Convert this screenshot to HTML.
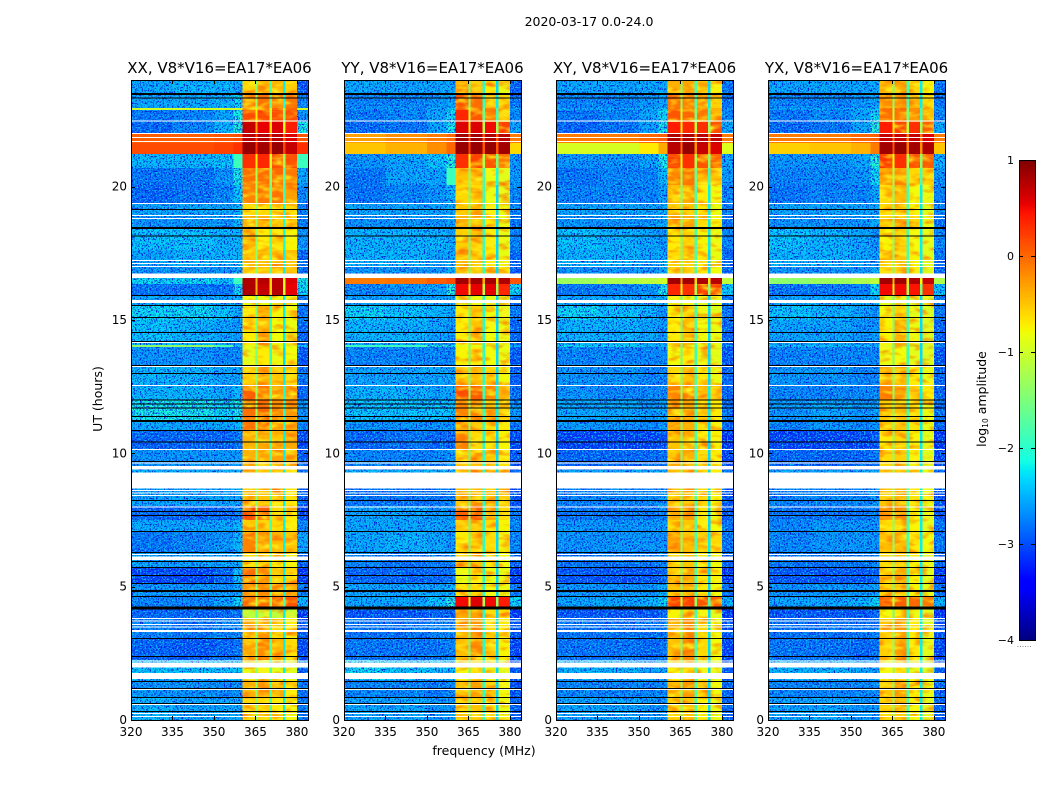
<!DOCTYPE html>
<html><head><meta charset="utf-8"><title>2020-03-17 spectrogram</title>
<style>
html,body{margin:0;padding:0;background:#fff}
svg{display:block}
text{font-family:"DejaVu Sans","Liberation Sans",sans-serif;fill:#000}
</style></head>
<body>
<svg id="fig" xmlns="http://www.w3.org/2000/svg" width="1050" height="800" viewBox="0 0 1050 800" shape-rendering="crispEdges">
<defs>
<filter id="grainDark" x="0" y="0" width="100%" height="100%" color-interpolation-filters="sRGB"><feTurbulence type="fractalNoise" baseFrequency="0.62" numOctaves="2" seed="4"/><feColorMatrix values="0 0 0 0 0  0 0 0 0 0.12  0 0 0 0 0.85  6 0 0 0 -2.9"/><feComposite in2="SourceAlpha" operator="in"/></filter>
<filter id="grainLight" x="0" y="0" width="100%" height="100%" color-interpolation-filters="sRGB"><feTurbulence type="fractalNoise" baseFrequency="0.62" numOctaves="2" seed="11"/><feColorMatrix values="0 0 0 0 0.05  0 0 0 0 0.75  0 0 0 0 0.95  6 0 0 0 -3.1"/><feComposite in2="SourceAlpha" operator="in"/></filter>
<filter id="fringeYellow" x="0" y="0" width="100%" height="100%" color-interpolation-filters="sRGB"><feTurbulence type="fractalNoise" baseFrequency="0.07 0.16" numOctaves="2" seed="7"/><feColorMatrix values="0 0 0 0 1  0 0 0 0 0.95  0 0 0 0 0.1  2.6 0 0 0 -1.15"/><feComposite in2="SourceAlpha" operator="in"/></filter>
<filter id="fringeOrange" x="0" y="0" width="100%" height="100%" color-interpolation-filters="sRGB"><feTurbulence type="fractalNoise" baseFrequency="0.07 0.16" numOctaves="2" seed="19"/><feColorMatrix values="0 0 0 0 1  0 0 0 0 0.4  0 0 0 0 0  2.2 0 0 0 -1.05"/><feComposite in2="SourceAlpha" operator="in"/></filter>
</defs>
<text x="589" y="26" font-size="12.5" text-anchor="middle">2020-03-17 0.0-24.0</text>
<text x="484" y="755" font-size="12.5" text-anchor="middle">frequency (MHz)</text>
<text transform="translate(102,399) rotate(-90)" font-size="12.5" text-anchor="middle">UT (hours)</text>
<text transform="translate(986,399) rotate(-90)" font-size="12.5" text-anchor="middle">log<tspan font-size="7.5" dy="2">10</tspan><tspan dy="-2"> amplitude</tspan></text>
<text x="1017" y="647" font-size="6" fill="#555" letter-spacing="0.6">......</text>
</svg>
<script>
// Axis tick values
const freqTicks = [320, 335, 350, 365, 380];
const utTicks = [0, 5, 10, 15, 20];
const colorTicks = [-4, -3, -2, -1, 0, 1];
const panelTitles = ["XX, V8*V16=EA17*EA06", "YY, V8*V16=EA17*EA06", "XY, V8*V16=EA17*EA06", "YX, V8*V16=EA17*EA06"];
// Channel-block edges in MHz
const freqEdges = [320, 335, 350, 357, 360.4, 365, 365.8, 370, 370.9, 375, 375.8, 380, 384];
// Time-block edges in UT hours
const utEdges = [0,.86,1.5,2.25,3.08,3.83,4.24,4.61,5.14,5.74,6.26,7.05,7.5,8.03,8.7,9.38,10.16,10.88,11.25,12,12.56,13.31,13.99,14.06,15,15.56,15.94,16.35,16.58,16.99,17.63,18.45,18.94,19.39,20.06,20.7,21.23,21.64,22.01,22.43,22.88,22.95,23.51,24];
// log10 amplitude for each time block (bottom to top), one value per channel block
const ampXX = [
[-2.4,-2.5,-2.5,-2.5,-.6,-1.4,-.6,-1.8,-.7,-2.2,-.8,-2.8],
[-2.6,-2.6,-2.7,-2.6,-.4,-1.4,-.3,-1.8,-.45,-2.2,-.7,-2.8],
[-2.3,-2.3,-2.3,-2.3,-.85,-1.4,-.85,-1.8,-.9,-2.2,-.9,-2.9],
[-2.9,-3,-2.9,-2.8,-.35,-1.4,-.2,-1.8,-.4,-2.2,-.6,-3.1],
[-2.7,-2.8,-2.7,-2.7,-.5,-1.4,-.25,-1.8,-.6,-2.2,-.7,-3],
[-2.9,-2.9,-2.9,-2.8,-1.1,-1.7,-1.1,-1.9,-1.1,-2.2,-1.1,-3.2],
[-2.7,-2.7,-2.5,-2.2,0,-1.1,-.05,-1.4,0,-1.8,.1,-2.4],
[-2.6,-2.6,-2.6,-2.5,-.2,-1.4,-.2,-1.8,-.3,-2.2,-.35,-2.8],
[-3.1,-3.1,-2.9,-2.3,-.05,-1.4,-.3,-1.8,-.5,-2.2,-.6,-3.2],
[-2.5,-2.5,-2.5,-2.5,-.6,-1.4,-.55,-1.8,-.7,-2.2,-.75,-2.9],
[-2.8,-2.7,-2.6,-2.4,-.15,-1.4,-.25,-1.8,-.45,-2.2,-.5,-2.5],
[-2.5,-2.5,-2.5,-2.4,-.5,-1.4,-.5,-1.8,-.6,-2.2,-.7,-2.7],
[-2.9,-2.9,-2.9,-2.7,.15,-1.2,.05,-1.6,-.6,-2.1,-.7,-3.1],
[-2.5,-2.5,-2.5,-2.5,-.5,-1.4,-.5,-1.8,-.6,-2.2,-.65,-2.9],
[-2.4,-2.4,-2.4,-2.4,-.5,-1.4,-.5,-1.8,-.5,-2.2,-.5,-2.8],
[-2.6,-2.6,-2.6,-2.6,-.4,-1.4,-.4,-1.8,-.3,-2.2,-.45,-3],
[-2.9,-2.9,-2.9,-2.8,-.4,-1.4,-.35,-1.8,-.5,-2.2,-.35,-3.1],
[-2.5,-2.5,-2.5,-2.4,-.1,-1.4,-.05,-1.7,-.3,-2.1,-.3,-2.7],
[-2.1,-2.1,-2.2,-2.1,-.05,-1.3,0,-1.6,-.2,-2,-.25,-2.6],
[-2.4,-2.4,-2.5,-2.4,.05,-1.3,-.1,-1.6,-.3,-2.1,-.25,-2.9],
[-2.4,-2.4,-2.5,-2.5,-.55,-1.4,-.4,-1.8,-.5,-2.2,-.55,-2.8],
[-2.6,-2.6,-2.7,-2.7,-.9,-1.5,-.7,-1.9,-.85,-2.3,-.8,-3],
[-1.4,-1.4,-1.8,-2.2,-.9,-1.4,-.9,-1.8,-.9,-2.2,-.9,-2.3],
[-2.3,-2.4,-2.5,-2.6,-.7,-1.5,-.35,-1.9,-.8,-2.2,-.85,-2.9],
[-2.2,-2.2,-2.3,-2.5,-.7,-1.5,-.4,-1.9,-.75,-2.2,-.8,-2.8],
[-2.5,-2.5,-2.5,-2.5,-.85,-1.6,-.85,-1.9,-.85,-2.2,-.85,-2.8],
[-2.8,-2.8,-2.8,-2.2,.8,-.4,.7,-.6,.75,-.9,.55,-2.2],
[-2.2,-2.2,-2.3,-1.9,.8,-.4,.75,-.6,.75,-.9,.6,-2.1],
[-2.6,-2.6,-2.6,-2.5,-.5,-1.4,-.5,-1.8,-.5,-2.2,-.5,-2.9],
[-2.5,-2.4,-2.4,-2.4,-.5,-1.4,-.5,-1.8,-.5,-2.2,-.45,-2.9],
[-2.3,-2.3,-2.4,-2.4,-.45,-1.4,-.7,-1.8,-.6,-2.1,-.75,-2.6],
[-2.6,-2.6,-2.6,-2.4,-.3,-1.4,-.4,-1.7,-.5,-2.1,-.55,-2.8],
[-2.5,-2.5,-2.5,-2.4,-.6,-1.4,-.6,-1.7,-.6,-2.1,-.6,-2.7],
[-2.9,-2.8,-2.7,-2.3,-.15,-1.2,-.1,-1.6,-.1,-1.9,-.3,-2.7],
[-2.8,-2.8,-2.6,-2.1,-.05,-1.2,-.05,-1.4,0,-1.8,-.15,-2.5],
[-2.4,-2.4,-2.3,-1.9,.3,-.7,.35,-1,.15,-1.3,.15,-1.9],
[.15,.15,.2,.3,.9,.3,.85,.1,.9,.2,.7,.3],
[.05,.05,.1,.15,.75,.2,.75,.1,.75,.1,.6,.1],
[-2.9,-2.7,-2.4,-2,.7,-.3,.55,-.6,.6,-.9,.4,-2.1],
[-2.8,-2.7,-2.5,-2.1,.15,-.7,.2,-1.1,.15,-1.4,.15,-2.6],
[-1,-1,-1,-1,0,-.9,0,-1,0,-1.2,0,-1],
[-2.5,-2.5,-2.4,-2.2,-.1,-1.3,-.05,-1.7,-.15,-2.1,-.1,-2.7],
[-2.5,-2.4,-2.4,-2.5,-.55,-1.4,-.35,-1.8,-.4,-2.2,-.55,-3]
];
const ampYY = [
[-2.5,-2.5,-2.6,-2.6,-.6,-1.6,-.5,-2,-.7,-2.3,-.85,-2.9],
[-2.7,-2.7,-2.8,-2.7,-.45,-1.6,-.3,-2,-.5,-2.3,-.8,-3],
[-2.2,-2.3,-2.3,-2.4,-.8,-1.6,-.6,-2,-.85,-2.3,-.9,-3],
[-2.8,-2.8,-2.8,-2.7,-.45,-1.6,-.2,-2,-.45,-2.3,-.75,-3.1],
[-2.8,-2.8,-2.7,-2.7,-.4,-1.6,-.25,-2,-.55,-2.3,-.7,-3],
[-3,-3,-2.9,-2.9,-.4,-1.6,-.3,-2,-.6,-2.3,-.7,-3.2],
[-2.5,-2.5,-2.3,-2,.5,-.9,.6,-1.2,.5,-1.4,.4,-2.2],
[-2.5,-2.5,-2.5,-2.4,-.65,-1.6,-.6,-2,-.8,-2.3,-.85,-2.8],
[-2.9,-2.9,-2.9,-2.8,-.85,-1.6,-.7,-2,-.85,-2.3,-.85,-3.2],
[-2.7,-2.8,-2.7,-2.7,-.6,-1.6,-.5,-2,-.7,-2.3,-.8,-2.9],
[-2.5,-2.4,-2.5,-2.6,-.7,-1.6,-.6,-2,-.6,-2.3,-.8,-2.7],
[-2.5,-2.5,-2.5,-2.5,-.5,-1.6,-.45,-2,-.6,-2.3,-.75,-2.7],
[-2.5,-2.5,-2.6,-2.6,.05,-1.5,.05,-2,-.35,-2.2,-.6,-2.8],
[-2.8,-2.8,-2.8,-2.7,-.45,-1.6,-.4,-2,-.5,-2.3,-.5,-3],
[-2.4,-2.4,-2.4,-2.4,-.5,-1.6,-.4,-2,-.5,-2.3,-.6,-2.8],
[-2.7,-2.7,-2.7,-2.6,-.5,-1.6,-.45,-2,-.5,-2.3,-.65,-3],
[-2.9,-2.8,-2.9,-2.9,-.15,-1.5,-.6,-2,-.7,-2.3,-.75,-3.1],
[-2.6,-2.6,-2.6,-2.6,-.45,-1.5,-.4,-1.9,-.55,-2.3,-.7,-2.8],
[-2.3,-2.3,-2.3,-2.3,-.15,-1.4,-.15,-1.9,-.4,-2.2,-.5,-2.6],
[-2.4,-2.4,-2.5,-2.5,.15,-1.4,.05,-1.9,-.2,-2.2,-.4,-2.8],
[-2.5,-2.5,-2.5,-2.5,-.5,-1.6,-.45,-2,-.6,-2.3,-.8,-2.9],
[-2.7,-2.7,-2.7,-2.7,-.75,-1.6,-.7,-2,-.8,-2.3,-.85,-3],
[-1.9,-1.9,-2,-2.2,-.9,-1.6,-.9,-2,-.9,-2.3,-.9,-2.4],
[-2.4,-2.4,-2.5,-2.6,-.7,-1.6,-.5,-2,-.8,-2.3,-.85,-2.9],
[-2.2,-2.3,-2.4,-2.5,-.7,-1.6,-.55,-2,-.8,-2.3,-.9,-2.8],
[-2.5,-2.5,-2.5,-2.5,-.85,-1.6,-.85,-2,-.9,-2.3,-.9,-2.8],
[-2.7,-2.6,-2.5,-2,.5,-.7,.55,-1.1,.55,-1.3,.35,-2.2],
[-.1,-.05,.05,.15,.85,0,.85,-.4,.85,-.6,.8,.1],
[-2.6,-2.6,-2.6,-2.5,-.5,-1.6,-.5,-2,-.6,-2.3,-.7,-2.9],
[-2.4,-2.4,-2.5,-2.5,-.45,-1.6,-.5,-2,-.7,-2.3,-.85,-2.9],
[-2.4,-2.4,-2.4,-2.5,-.55,-1.5,-.5,-1.9,-.7,-2.3,-.85,-2.7],
[-2.6,-2.6,-2.6,-2.5,-.4,-1.5,-.5,-1.9,-.7,-2.3,-.85,-2.8],
[-2.5,-2.5,-2.5,-2.5,-.5,-1.5,-.5,-1.9,-.7,-2.3,-.85,-2.7],
[-2.8,-2.7,-2.6,-2.4,-.6,-1.5,-.6,-1.9,-.85,-2.3,-.9,-2.7],
[-2.8,-2.5,-2.5,-1.9,-.5,-1.4,-.5,-1.8,-.85,-2.1,-.9,-2.6],
[-2.6,-2.5,-2.3,-2,.3,-.8,.2,-1.2,.1,-1.5,-.1,-2.6],
[-.5,-.4,-.2,0,.9,.2,.9,.1,.9,.1,.85,-.6],
[-.3,-.2,-.1,0,.85,.1,.85,.1,.8,.1,.75,-.1],
[-2.9,-2.8,-2.5,-2.1,.6,-.7,.6,-1.1,.5,-1.3,.2,-2.5],
[-2.8,-2.7,-2.5,-2.2,.35,-1,.1,-1.6,-.2,-1.9,-.5,-2.7],
[-2.6,-2.6,-2.5,-2.3,.1,-1.1,0,-1.6,-.2,-1.9,-.5,-2.6],
[-2.7,-2.7,-2.6,-2.5,.1,-1.4,-.05,-1.9,-.4,-2.2,-.6,-2.8],
[-2.5,-2.5,-2.5,-2.5,-.35,-1.6,-.4,-2,-.7,-2.3,-.85,-2.9]
];
const ampXY = [
[-2.5,-2.5,-2.6,-2.6,-.55,-1.5,-.5,-1.8,-.75,-2.3,-.85,-2.9],
[-2.7,-2.7,-2.7,-2.7,-.45,-1.5,-.25,-1.8,-.6,-2.3,-.8,-2.9],
[-2.4,-2.4,-2.5,-2.5,-.75,-1.5,-.6,-1.8,-.85,-2.3,-.9,-3],
[-2.8,-2.8,-2.9,-2.8,-.45,-1.5,-.2,-1.8,-.6,-2.3,-.8,-3.1],
[-2.8,-2.8,-2.8,-2.8,-.4,-1.5,-.2,-1.8,-.6,-2.3,-.8,-3],
[-3,-3,-3,-2.9,-.75,-1.6,-.6,-1.9,-.8,-2.3,-.9,-3.2],
[-2.5,-2.5,-2.4,-2.2,.2,-1.1,.25,-1.4,.1,-1.8,.05,-2.4],
[-2.6,-2.6,-2.6,-2.5,-.5,-1.5,-.45,-1.8,-.7,-2.3,-.8,-2.8],
[-3,-3,-3,-2.9,-.45,-1.5,-.35,-1.8,-.65,-2.3,-.75,-3.2],
[-2.8,-2.8,-2.8,-2.7,-.55,-1.5,-.5,-1.8,-.7,-2.3,-.8,-2.9],
[-2.6,-2.6,-2.6,-2.6,-.3,-1.4,-.45,-1.8,-.55,-2.2,-.6,-2.8],
[-2.6,-2.6,-2.6,-2.6,-.55,-1.5,-.5,-1.8,-.7,-2.3,-.8,-2.8],
[-2.8,-2.8,-2.8,-2.7,-.35,-1.5,-.3,-1.8,-.65,-2.3,-.8,-3],
[-2.7,-2.7,-2.7,-2.6,-.5,-1.5,-.4,-1.8,-.6,-2.3,-.75,-3],
[-2.5,-2.5,-2.5,-2.5,-.5,-1.5,-.45,-1.8,-.6,-2.3,-.7,-2.8],
[-2.9,-2.9,-2.9,-2.8,-.5,-1.5,-.4,-1.8,-.6,-2.3,-.7,-3.1],
[-3.1,-3.1,-3.1,-3,-.5,-1.5,-.45,-1.8,-.7,-2.3,-.75,-3.2],
[-2.6,-2.6,-2.7,-2.6,-.35,-1.5,-.4,-1.8,-.65,-2.3,-.75,-2.9],
[-2.5,-2.5,-2.6,-2.5,-.35,-1.4,-.3,-1.8,-.55,-2.2,-.7,-2.8],
[-2.6,-2.7,-2.7,-2.7,-.15,-1.4,-.2,-1.8,-.45,-2.2,-.6,-2.9],
[-2.6,-2.6,-2.7,-2.7,-.6,-1.5,-.5,-1.8,-.7,-2.3,-.85,-2.9],
[-2.7,-2.7,-2.7,-2.7,-.8,-1.6,-.7,-1.9,-.85,-2.3,-.9,-3],
[-2.2,-2.2,-2.3,-2.4,-.9,-1.6,-.9,-1.9,-.9,-2.3,-.9,-2.6],
[-2.4,-2.4,-2.5,-2.6,-.7,-1.5,-.45,-1.8,-.8,-2.3,-.85,-2.9],
[-2.2,-2.3,-2.4,-2.6,-.75,-1.5,-.55,-1.8,-.85,-2.3,-.9,-2.8],
[-2.5,-2.5,-2.5,-2.5,-.85,-1.6,-.85,-1.9,-.9,-2.3,-.9,-2.8],
[-2.8,-2.7,-2.6,-2.1,.35,-.8,.3,-1.2,.25,-1.4,.2,-2.3],
[-1.3,-1.2,-1.1,-1,.85,-.3,.85,-.6,.8,-.7,.75,-1.1],
[-2.6,-2.6,-2.6,-2.5,-.55,-1.5,-.5,-1.8,-.7,-2.3,-.8,-2.9],
[-2.4,-2.4,-2.5,-2.5,-.6,-1.5,-.55,-1.8,-.7,-2.3,-.85,-2.9],
[-2.3,-2.4,-2.5,-2.6,-.7,-1.5,-.55,-1.8,-.75,-2.2,-.85,-2.7],
[-2.6,-2.6,-2.6,-2.5,-.35,-1.5,-.35,-1.8,-.6,-2.2,-.75,-2.8],
[-2.5,-2.5,-2.5,-2.5,-.55,-1.5,-.5,-1.8,-.7,-2.2,-.85,-2.7],
[-2.7,-2.7,-2.7,-2.5,-.45,-1.5,-.4,-1.8,-.7,-2.2,-.8,-2.7],
[-2.8,-2.7,-2.7,-2.4,-.2,-1.3,-.1,-1.6,-.4,-1.9,-.5,-2.6],
[-2.6,-2.6,-2.5,-2.1,.2,-.8,.3,-1.2,.1,-1.4,0,-2.5],
[-.95,-.95,-.7,-.35,.75,0,.9,-.2,.7,-.3,.6,-.9],
[-.1,-.1,0,.05,.8,0,.8,-.1,.75,-.1,.7,-.1],
[-2.9,-2.8,-2.5,-2.1,.4,-.7,.35,-1.1,.3,-1.3,.15,-2.5],
[-2.8,-2.7,-2.5,-2.2,.1,-1,0,-1.5,-.1,-1.9,-.4,-2.7],
[-2.5,-2.5,-2.5,-2.3,.05,-1.1,.05,-1.5,-.1,-1.9,-.4,-2.6],
[-2.7,-2.7,-2.6,-2.5,-.05,-1.4,-.15,-1.8,-.3,-2.2,-.55,-2.8],
[-2.5,-2.5,-2.5,-2.5,-.4,-1.5,-.35,-1.8,-.5,-2.3,-.75,-2.8]
];
const ampYX = [
[-2.5,-2.5,-2.6,-2.6,-.6,-1.4,-.5,-1.8,-.8,-2.2,-.9,-2.9],
[-2.7,-2.7,-2.7,-2.7,-.5,-1.4,-.3,-1.8,-.7,-2.2,-.85,-2.9],
[-2.4,-2.4,-2.5,-2.5,-.8,-1.4,-.65,-1.8,-.9,-2.2,-.95,-3],
[-2.8,-2.8,-2.9,-2.8,-.55,-1.4,-.3,-1.8,-.7,-2.2,-.9,-3.1],
[-2.8,-2.8,-2.8,-2.8,-.5,-1.4,-.25,-1.8,-.7,-2.2,-.9,-3],
[-3,-3,-3,-2.9,-.8,-1.6,-.7,-1.9,-.85,-2.2,-.95,-3.2],
[-2.5,-2.5,-2.4,-2.2,.05,-1.1,.05,-1.4,0,-1.8,-.1,-2.4],
[-2.6,-2.6,-2.6,-2.5,-.55,-1.5,-.5,-1.8,-.75,-2.2,-.9,-2.8],
[-3,-3,-3,-2.9,-.5,-1.4,-.35,-1.8,-.75,-2.2,-.9,-3.2],
[-2.8,-2.8,-2.8,-2.7,-.6,-1.4,-.5,-1.8,-.75,-2.2,-.9,-2.9],
[-2.7,-2.6,-2.6,-2.6,-.45,-1.4,-.45,-1.8,-.65,-2.2,-.8,-2.8],
[-2.7,-2.6,-2.6,-2.6,-.6,-1.4,-.55,-1.8,-.75,-2.2,-.9,-2.8],
[-2.8,-2.8,-2.8,-2.7,-.2,-1.4,-.25,-1.8,-.75,-2.2,-.9,-3],
[-2.7,-2.7,-2.7,-2.6,-.5,-1.4,-.4,-1.8,-.65,-2.2,-.85,-3],
[-2.5,-2.5,-2.5,-2.5,-.5,-1.4,-.45,-1.8,-.65,-2.2,-.85,-2.8],
[-2.9,-2.9,-2.9,-2.8,-.6,-1.4,-.55,-1.8,-.75,-2.2,-.9,-3.1],
[-3.1,-3.1,-3.1,-3,-.7,-1.4,-.6,-1.8,-.75,-2.2,-.9,-3.2],
[-2.7,-2.6,-2.7,-2.6,-.5,-1.4,-.5,-1.8,-.65,-2.2,-.85,-2.9],
[-2.6,-2.5,-2.6,-2.5,-.5,-1.4,-.45,-1.8,-.6,-2.2,-.85,-2.8],
[-2.7,-2.7,-2.7,-2.7,-.15,-1.4,-.35,-1.8,-.55,-2.2,-.7,-2.9],
[-2.6,-2.6,-2.7,-2.7,-.35,-1.4,-.45,-1.8,-.7,-2.2,-.85,-2.9],
[-2.7,-2.7,-2.7,-2.7,-.85,-1.5,-.8,-1.9,-.9,-2.3,-.95,-3],
[-2.3,-2.3,-2.3,-2.4,-1,-1.6,-.95,-1.9,-1,-2.3,-1,-2.6],
[-2.5,-2.5,-2.6,-2.6,-.75,-1.5,-.4,-1.8,-.85,-2.3,-.95,-2.9],
[-2.3,-2.4,-2.5,-2.6,-.8,-1.5,-.55,-1.8,-.9,-2.3,-.95,-2.8],
[-2.5,-2.5,-2.5,-2.5,-.9,-1.6,-.9,-1.9,-.95,-2.3,-.95,-2.8],
[-2.8,-2.8,-2.7,-2.2,.5,-.9,.5,-1.2,.45,-1.5,.3,-2.3],
[-1.4,-1.3,-1.2,-1.1,.85,-.4,.85,-.7,.8,-.8,.7,-1.2],
[-2.6,-2.6,-2.6,-2.5,-.6,-1.5,-.5,-1.8,-.75,-2.3,-.9,-2.9],
[-2.4,-2.4,-2.5,-2.5,-.55,-1.4,-.5,-1.8,-.75,-2.2,-.9,-2.8],
[-2.3,-2.4,-2.5,-2.6,-.75,-1.4,-.55,-1.8,-.8,-2.2,-.9,-2.7],
[-2.6,-2.6,-2.6,-2.5,-.55,-1.4,-.35,-1.8,-.6,-2.2,-.85,-2.8],
[-2.5,-2.5,-2.5,-2.5,-.6,-1.4,-.5,-1.8,-.75,-2.2,-.9,-2.7],
[-2.8,-2.7,-2.7,-2.5,-.6,-1.4,-.45,-1.8,-.8,-2.2,-.85,-2.7],
[-2.7,-2.7,-2.6,-2.2,-.3,-1.2,-.3,-1.5,-.6,-1.8,-.55,-2.6],
[-2.6,-2.6,-2.5,-2,.25,-.8,.3,-1.2,.15,-1.4,.05,-2.4],
[-.55,-.5,-.4,-.1,.85,.1,.9,-.1,.85,-.2,.8,-.5],
[-.1,-.1,0,.05,.7,0,.7,-.1,.7,-.1,.6,-.1],
[-2.9,-2.8,-2.5,-2,.4,-.7,.2,-1.1,.3,-1.3,.05,-2.5],
[-2.8,-2.7,-2.5,-2.2,-.05,-1.1,-.1,-1.5,-.2,-1.9,-.45,-2.7],
[-2.5,-2.5,-2.4,-2.3,0,-1.1,0,-1.5,-.2,-1.9,-.45,-2.6],
[-2.7,-2.7,-2.6,-2.5,-.2,-1.4,-.25,-1.8,-.4,-2.2,-.6,-2.8],
[-2.5,-2.5,-2.5,-2.5,-.45,-1.5,-.35,-1.8,-.55,-2.2,-.75,-2.8]
];
const panelData = [ampXX, ampYY, ampXY, ampYX];
// Flagged (no data) time ranges in UT hours, shown white
const flaggedStart = [.11,.23,.56,1.13,1.54,1.97,2.19,3.3,3.47,3.56,3.69,3.79,6,6.19,7.97,8.4,8.49,8.59,8.68,9.39,9.62,10.13,12.53,13.24,14.14,15.64,16.575,16.99,17.1,17.21,18.79,18.9,19.35,21.675,21.825,21.98,22.44];
const flaggedEnd = [.15,.26,.6,1.16,1.76,2.16,2.23,3.38,3.51,3.6,3.73,3.83,6.13,6.22,8.01,8.44,8.53,8.63,9.28,9.53,9.66,10.16,12.56,13.28,14.18,15.75,16.74,17.03,17.14,17.25,18.83,18.94,19.39,21.71,21.86,22.01,22.48];
// Off-scale time ranges in UT hours, shown black
const blackStart = [.3,.6,.83,1.16,1.43,2.36,3.04,4.14,4.61,4.8,5.1,5.4,5.7,5.93,6.26,7.05,7.65,7.8,8.21,9.68,10.41,10.84,11.18,11.36,11.68,11.83,11.98,12.98,13.28,14.18,14.51,15.08,15.53,15.9,18.13,18.41,19.13,23.31,23.44];
const blackEnd = [.34,.64,.86,1.2,1.46,2.4,3.08,4.26,4.65,4.88,5.14,5.44,5.74,5.96,6.3,7.09,7.69,7.84,8.25,9.71,10.44,10.88,11.25,11.4,11.72,11.87,12.02,13.01,13.31,14.21,14.55,15.11,15.56,15.94,18.17,18.49,19.16,23.34,23.51];

const svg = document.getElementById('fig');
const NS = 'http://www.w3.org/2000/svg';
const panelLeft = [131, 344, 556, 768];
const panelWidth = 177, plotTop = 80, plotBottom = 720;
const xScale = (mhz, left) => left + (mhz - 320) / 64 * panelWidth;
const yScale = (ut) => plotBottom - ut / 24 * (plotBottom - plotTop);
const cbTop = 160, cbBottom = 640, cbLeft = 1019, cbRight = 1035;
const cbScale = (v) => cbBottom - (v + 4) / 5 * (cbBottom - cbTop);
const noiseColumns = [0, 1, 2, 3, 11];
const bandColumns = [4, 6, 8, 10];

function ramp(t, pts) {
  for (let i = 1; i < pts.length; i++) {
    if (t <= pts[i][0]) {
      const a = pts[i - 1], b = pts[i];
      return a[1] + (b[1] - a[1]) * (t - a[0]) / (b[0] - a[0]);
    }
  }
  return pts[pts.length - 1][1];
}
function jet(v) {
  const t = Math.max(0, Math.min(1, (v + 4) / 5));
  const r = ramp(t, [[0, 0], [.35, 0], [.66, 1], [.89, 1], [1, .5]]);
  const g = ramp(t, [[0, 0], [.125, 0], [.375, 1], [.64, 1], [.91, 0], [1, 0]]);
  const b = ramp(t, [[0, .5], [.11, 1], [.34, 1], [.65, 0], [1, 0]]);
  return 'rgb(' + Math.round(r * 255) + ',' + Math.round(g * 255) + ',' + Math.round(b * 255) + ')';
}
function rect(parent, x, y, w, h, fill) {
  const el = document.createElementNS(NS, 'rect');
  el.setAttribute('x', x); el.setAttribute('y', y);
  el.setAttribute('width', w); el.setAttribute('height', h);
  el.setAttribute('fill', fill);
  parent.appendChild(el);
  return el;
}
function line(parent, x1, y1, x2, y2) {
  const el = document.createElementNS(NS, 'line');
  el.setAttribute('x1', x1); el.setAttribute('y1', y1);
  el.setAttribute('x2', x2); el.setAttribute('y2', y2);
  el.setAttribute('stroke', '#000'); el.setAttribute('stroke-width', '1');
  parent.appendChild(el);
  return el;
}
function label(parent, x, y, str, size, anchor) {
  const el = document.createElementNS(NS, 'text');
  el.setAttribute('x', x); el.setAttribute('y', y);
  el.setAttribute('font-size', size); el.setAttribute('text-anchor', anchor);
  el.textContent = str;
  parent.appendChild(el);
  return el;
}
// Outline of the cells whose level passes the test, used to confine the texture overlays
function regionPath(rows, left, columns, test) {
  let d = '';
  rows.forEach(function (row, i) {
    columns.forEach(function (j) {
      if (!test(row[j])) return;
      const x0 = xScale(freqEdges[j], left), x1 = xScale(freqEdges[j + 1], left);
      const y0 = yScale(utEdges[i + 1]), y1 = yScale(utEdges[i]);
      d += 'M' + x0 + ' ' + y0 + 'H' + x1 + 'V' + y1 + 'H' + x0 + 'Z';
    });
  });
  return d;
}

panelTitles.forEach(function (title, p) {
  const left = panelLeft[p];
  const g = document.createElementNS(NS, 'g');
  
  
  svg.appendChild(g);

  const rows = panelData[p];
  rows.forEach(function (row, i) {
    row.forEach(function (v, j) {
      const x0 = xScale(freqEdges[j], left), x1 = xScale(freqEdges[j + 1], left);
      const y1 = yScale(utEdges[i]), y0 = yScale(utEdges[i + 1]);
      const c = rect(g, x0, y0, x1 - x0, y1 - y0, jet(v));
      
      
    });
  });

  ['grainDark', 'grainLight'].forEach(function (fid) {
    const gr = document.createElementNS(NS, 'path');
    gr.setAttribute('d', regionPath(rows, left, noiseColumns, function (v) { return v < -1.95; }));
    gr.setAttribute('filter', 'url(#' + fid + ')');
    
    
    g.appendChild(gr);
  });
  ['fringeYellow', 'fringeOrange'].forEach(function (fid) {
    const fr = document.createElementNS(NS, 'path');
    fr.setAttribute('d', regionPath(rows, left, bandColumns, function (v) { return v < .3; }));
    fr.setAttribute('filter', 'url(#' + fid + ')');
    
    
    g.appendChild(fr);
  });

  flaggedStart.forEach(function (s, i) {
    const f = rect(g, left, yScale(flaggedEnd[i]), panelWidth, yScale(s) - yScale(flaggedEnd[i]), '#fff');
    
    
  });
  blackStart.forEach(function (s, i) {
    const b = rect(g, left, yScale(blackEnd[i]), panelWidth, yScale(s) - yScale(blackEnd[i]), '#000');
    
    
  });

  const frame = rect(g, left + .5, plotTop + .5, panelWidth, plotBottom - plotTop, 'none');
  frame.setAttribute('stroke', '#000');
  
  

  freqTicks.forEach(function (t) {
    const x = Math.round(xScale(t, left)) + .5;
    const a = line(g, x, plotBottom, x, plotBottom - 4);
    
    
    const b = line(g, x, plotTop, x, plotTop + 4);
    
    
    const tl = label(g, xScale(t, left), 736, String(t), 12, 'middle');
    
    
  });
  utTicks.forEach(function (t) {
    const y = Math.round(yScale(t)) + .5;
    const a = line(g, left, y, left + 4, y);
    
    
    const b = line(g, left + panelWidth, y, left + panelWidth - 4, y);
    
    
    const tl = label(g, left - 4, yScale(t) + 4, String(t), 12, 'end');
    
    
  });

  const tt = label(g, left + panelWidth / 2, 73, title, 15, 'middle');
  
  
});

const cb = document.createElementNS(NS, 'g');


svg.appendChild(cb);
const cbStep = 0.02;
for (let k = 0; k < 250; k++) {
  const v0 = -4 + k * cbStep;
  const s = rect(cb, cbLeft, cbScale(v0 + cbStep), cbRight - cbLeft, cbScale(v0) - cbScale(v0 + cbStep) + .5, jet(v0 + cbStep / 2));
  
  
}
const cbFrame = rect(cb, cbLeft + .5, cbTop + .5, cbRight - cbLeft, cbBottom - cbTop, 'none');
cbFrame.setAttribute('stroke', '#000');


colorTicks.forEach(function (t) {
  const y = Math.round(cbScale(t)) + .5;
  const a = line(cb, cbLeft, y, cbLeft + 4, y);
  
  
  const b = line(cb, cbRight, y, cbRight - 4, y);
  
  
  const tl = label(cb, cbLeft - 5, cbScale(t) + 4, t < 0 ? '\u2212' + Math.abs(t) : String(t), 11, 'end');
  
  
});
</script>
</body></html>
